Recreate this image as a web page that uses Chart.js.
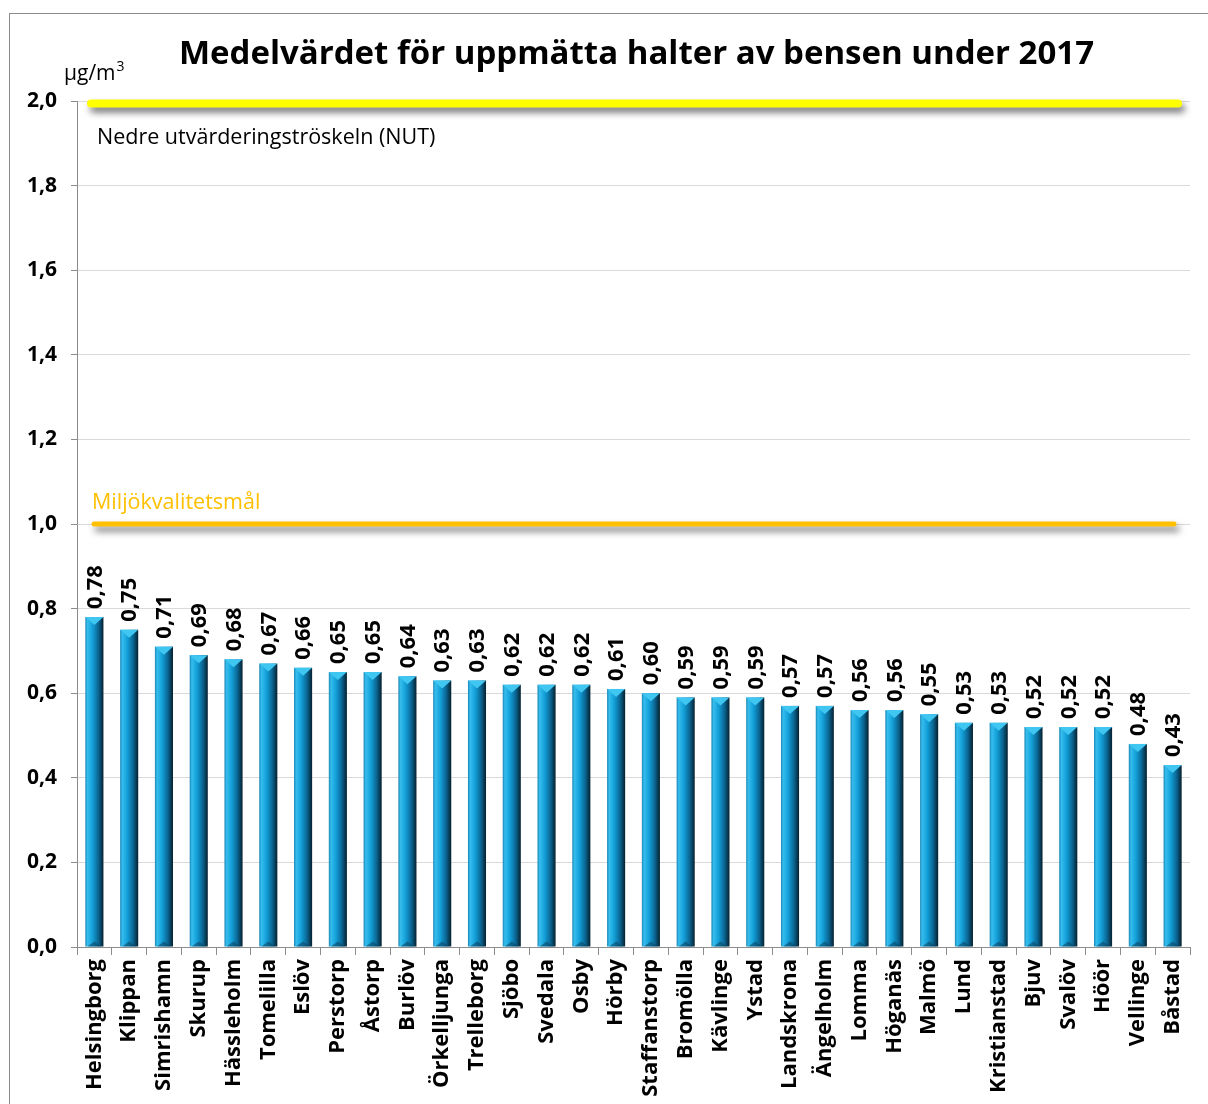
<!DOCTYPE html>
<html>
<head>
<meta charset="utf-8">
<script src="https://cdn.jsdelivr.net/npm/chart.js@4.4.1/dist/chart.umd.min.js"></script>
<style>
  body { margin: 0; background: #fff; }
  #frame { position: absolute; left: 9px; top: 13px; width: 1220px; height: 1120px; border: 1px solid #8c8c8c; }
  #benzeneChart { position: absolute; left: 0; top: 0; }
</style>
</head>
<body>
<div id="frame"></div>
<canvas id="benzeneChart" width="1208" height="1104"></canvas>
<script>
// Data
const towns = ["Helsingborg", "Klippan", "Simrishamn", "Skurup", "Hässleholm", "Tomelilla", "Eslöv", "Perstorp",
  "Åstorp", "Burlöv", "Örkelljunga", "Trelleborg", "Sjöbo", "Svedala", "Osby", "Hörby", "Staffanstorp", "Bromölla",
  "Kävlinge", "Ystad", "Landskrona", "Ängelholm", "Lomma", "Höganäs", "Malmö", "Lund", "Kristianstad", "Bjuv",
  "Svalöv", "Höör", "Vellinge", "Båstad"];
const benzene = [0.78, 0.75, 0.71, 0.69, 0.68, 0.67, 0.66, 0.65, 0.65, 0.64, 0.63, 0.63, 0.62, 0.62, 0.62, 0.61,
  0.60, 0.59, 0.59, 0.59, 0.57, 0.57, 0.56, 0.56, 0.55, 0.53, 0.53, 0.52, 0.52, 0.52, 0.48, 0.43];
const yTicks = [0, 0.2, 0.4, 0.6, 0.8, 1.0, 1.2, 1.4, 1.6, 1.8, 2.0];
const nutLimit = 2.0;      // Nedre utvärderingströskeln
const envGoal = 1.0;       // Miljökvalitetsmål

const titleText = "Medelvärdet för uppmätta halter av bensen under 2017";
const fontFam = "'Open Sans', 'DejaVu Sans', sans-serif";

// Draws shaded bars, threshold lines, value labels and title text
const decorPlugin = {
  id: "decor",
  afterDatasetsDraw(chart) {
    const ctx = chart.ctx;
    const yScale = chart.scales.y;
    const area = chart.chartArea;
    const meta = chart.getDatasetMeta(0);

    // bars with a horizontal cylinder-like gradient
    meta.data.forEach((bar, i) => {
      const left = bar.x - bar.width / 2;
      const right = bar.x + bar.width / 2;
      const top = bar.y;
      const bottom = bar.base;
      const g = ctx.createLinearGradient(left, 0, right, 0);
      g.addColorStop(0, "#1a86b5");
      g.addColorStop(0.12, "#35bdee");
      g.addColorStop(0.4, "#129fd8");
      g.addColorStop(0.72, "#0b6592");
      g.addColorStop(1, "#05202e");
      ctx.save();
      ctx.fillStyle = g;
      ctx.fillRect(left, top, right - left, bottom - top);
      // top bevel
      ctx.fillStyle = "#3fc6f1";
      ctx.beginPath();
      ctx.moveTo(left, top);
      ctx.lineTo(right, top);
      ctx.lineTo(bar.x, top + 8);
      ctx.closePath();
      ctx.fill();
      // bottom bevel
      ctx.fillStyle = "rgba(10,70,100,0.6)";
      ctx.beginPath();
      ctx.moveTo(left + 2, bottom);
      ctx.lineTo(right - 2, bottom);
      ctx.lineTo(bar.x, bottom - 5);
      ctx.closePath();
      ctx.fill();
      ctx.restore();

      // rotated value label
      ctx.save();
      ctx.translate(bar.x, top - 8);
      ctx.rotate(-Math.PI / 2);
      ctx.font = "bold 22px " + fontFam;
      ctx.fillStyle = "#000";
      ctx.textAlign = "left";
      ctx.textBaseline = "middle";
      ctx.fillText(benzene[i].toFixed(2).replace(".", ","), 0, 1);
      ctx.restore();
    });

    // threshold lines with soft shadow
    const drawLimit = (value, color, width, x0, x1, dy) => {
      const y = yScale.getPixelForValue(value) + dy;
      ctx.save();
      ctx.shadowColor = "rgba(0,0,0,0.55)";
      ctx.shadowBlur = 7;
      ctx.shadowOffsetX = 3;
      ctx.shadowOffsetY = 5;
      ctx.strokeStyle = color;
      ctx.lineWidth = width;
      ctx.lineCap = "round";
      ctx.beginPath();
      ctx.moveTo(x0, y);
      ctx.lineTo(x1, y);
      ctx.stroke();
      ctx.restore();
    };
    drawLimit(nutLimit, "#ffff00", 8, area.left + 14, area.right - 12, 2.5);
    drawLimit(envGoal, "#ffc000", 5, area.left + 17, area.right - 16, 0);

    ctx.save();
    ctx.font = "21.5px " + fontFam;
    ctx.textAlign = "left";
    ctx.textBaseline = "alphabetic";
    ctx.fillStyle = "#000";
    ctx.fillText("Nedre utvärderingströskeln (NUT)", area.left + 20, yScale.getPixelForValue(nutLimit) + 43);
    ctx.fillStyle = "#ffc000";
    ctx.fillText("Miljökvalitetsmål", area.left + 15, yScale.getPixelForValue(envGoal) - 15);

    // title and unit
    ctx.fillStyle = "#000";
    ctx.font = "bold 33px " + fontFam;
    ctx.textAlign = "center";
    ctx.fillText(titleText, (area.left + area.right) / 2 + 3, 64);
    ctx.font = "21px " + fontFam;
    ctx.textAlign = "left";
    ctx.fillText("µg/m", 64, 80);
    const w = ctx.measureText("µg/m").width;
    ctx.font = "14px " + fontFam;
    ctx.fillText("3", 64 + w + 1, 71);
    ctx.restore();
  }
};

new Chart(document.getElementById("benzeneChart").getContext("2d"), {
  type: "bar",
  data: {
    labels: towns,
    datasets: [{
      data: benzene,
      backgroundColor: "rgba(0,0,0,0)",
      barPercentage: 0.52,
      categoryPercentage: 1
    }]
  },
  options: {
    responsive: false,
    animation: false,
    events: [],
    layout: { padding: { top: 101, right: 18, left: 0, bottom: 0 } },
    plugins: { legend: { display: false }, tooltip: { enabled: false } },
    scales: {
      x: {
        afterFit(scale) { scale.height = 1104 - 947; },
        grid: { offset: true, drawOnChartArea: false, drawTicks: true, tickLength: 8, color: "#8c8c8c" },
        border: { color: "#8c8c8c", width: 1 },
        ticks: {
          autoSkip: false, maxRotation: 90, minRotation: 90, padding: 4,
          color: "#000", font: { family: fontFam, size: 22, weight: "bold" }
        }
      },
      y: {
        min: 0, max: 2,
        afterFit(scale) { scale.width = 77; },
        afterBuildTicks(scale) { scale.ticks = yTicks.map(v => ({ value: v })); },
        grid: { color: "#d9d9d9", tickLength: 6, tickColor: "#8c8c8c" },
        border: { color: "#8c8c8c", width: 1 },
        ticks: {
          padding: 14, color: "#000",
          font: { family: fontFam, size: 21, weight: "bold" },
          callback: v => v.toFixed(1).replace(".", ",")
        }
      }
    }
  },
  plugins: [decorPlugin]
});
</script>
</body>
</html>
